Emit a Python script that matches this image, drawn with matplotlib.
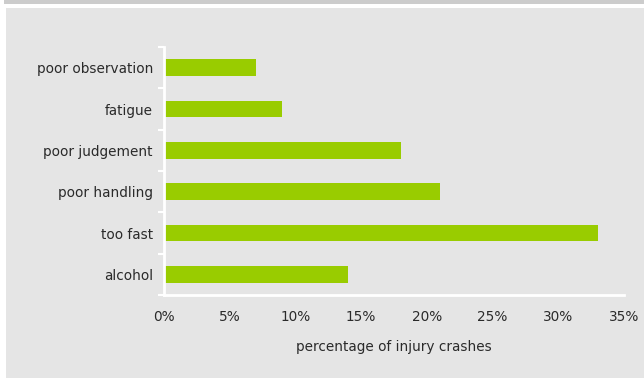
import matplotlib
matplotlib.use('Agg')
import matplotlib.pyplot as plt
from matplotlib.patches import Rectangle
from matplotlib.ticker import FuncFormatter

# data
causes = ['alcohol', 'too fast', 'poor handling', 'poor judgement', 'fatigue', 'poor observation']
pct = [14, 33, 21, 18, 9, 7]
xticks = [0, 5, 10, 15, 20, 25, 30, 35]

W, H = 644, 378
fs = 9.8
txt = '#2a2a2a'
fig = plt.figure(figsize=(W / 100, H / 100), dpi=100)
fig.patch.set_facecolor('white')

# grey panel + top band, in a background axes
bg = fig.add_axes([0, 0, 1, 1], zorder=-1)
bg.set_xlim(0, W)
bg.set_ylim(H, 0)
bg.axis('off')
bg.add_patch(Rectangle((6, 8), W, H, facecolor='#e5e5e5', edgecolor='none'))
bg.add_patch(Rectangle((4, 0), W, 4, facecolor='#cccccc', edgecolor='none'))

ax = fig.add_axes([164 / W, 1 - 295 / H, 460 / W, 248 / H])
ax.set_facecolor('none')

y = range(len(causes))
ax.barh(y, pct, height=0.41, color='#99cc00', zorder=2)

ax.set_xlim(0, 35)
ax.set_ylim(-0.5, len(causes) - 0.5)
ax.set_xticks(xticks)
ax.xaxis.set_major_formatter(FuncFormatter(lambda v, p: f'{v:.0f}%'))
ax.set_yticks(list(y))
ax.set_yticklabels(causes)
ax.set_yticks([i - 0.5 for i in range(len(causes) + 1)], minor=True)

ax.tick_params(axis='y', which='major', length=0, pad=8, labelsize=fs, labelcolor=txt)
ax.tick_params(axis='y', which='minor', length=4, width=1.5, color='white', direction='out')
ax.tick_params(axis='x', length=0, pad=11, labelsize=fs, labelcolor=txt)

for s in ['top', 'right']:
    ax.spines[s].set_visible(False)
for s in ['left', 'bottom']:
    ax.spines[s].set_color('white')
    ax.spines[s].set_linewidth(2)
    ax.spines[s].set_zorder(3)

ax.set_xlabel('percentage of injury crashes', fontsize=fs, color=txt, labelpad=11)

fig.savefig('out.png', dpi=100, facecolor=fig.get_facecolor())
